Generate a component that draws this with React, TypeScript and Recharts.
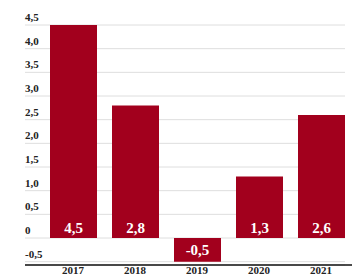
import { BarChart, Bar, XAxis, YAxis, CartesianGrid, LabelList } from "recharts";

const years = ["2017", "2018", "2019", "2020", "2021"];
const growth = [4.5, 2.8, -0.5, 1.3, 2.6];
const yTicks = [-0.5, 0, 0.5, 1, 1.5, 2, 2.5, 3, 3.5, 4, 4.5];

const chartData = years.map((year, i) => ({ year, value: growth[i] }));

const SERIF = "'Liberation Serif', 'DejaVu Serif', serif";
const BAR_COLOR = "#A2001D";

const fmt = (v: number) => (v === 0 ? "0" : v.toFixed(1).replace(".", ","));

const YTick = (props: any) => {
  const { x, y, payload } = props;
  return (
    <text
      x={x}
      y={y - 8}
      textAnchor="start"
      dominantBaseline="central"
      fontFamily={SERIF}
      fontWeight="bold"
      fontSize={11}
      fill="#222"
    >
      {fmt(payload.value)}
    </text>
  );
};

const ValueLabel = (props: any) => {
  const { x, y, width, height, value } = props;
  const top = Math.min(y, y + height);
  const bottom = Math.max(y, y + height);
  const ty = value >= 0 ? bottom - 10 : (top + bottom) / 2;
  return (
    <text
      x={x + width / 2}
      y={ty}
      textAnchor="middle"
      dominantBaseline="central"
      fontFamily={SERIF}
      fontWeight="bold"
      fontSize={15}
      fill="#fff"
    >
      {fmt(value)}
    </text>
  );
};

export default function App() {
  return (
    <div style={{ position: "absolute", left: 0, top: 0, background: "#fff" }}>
      <BarChart
        width={355}
        height={277}
        data={chartData}
        margin={{ top: 25, right: 3, bottom: 0, left: 0 }}
      >
        <CartesianGrid
          vertical={false}
          stroke="#dedede"
          x={25}
          width={320}
        />
        <YAxis
          type="number"
          domain={[-0.57, 4.5]}
          ticks={yTicks}
          interval={0}
          width={25}
          axisLine={false}
          tickLine={false}
          tickSize={0}
          tickMargin={0}
          tick={<YTick />}
        />
        <XAxis
          dataKey="year"
          height={12}
          padding={{ left: 17, right: 0 }}
          axisLine={{ stroke: "#111", strokeWidth: 1.5 }}
          tickLine={false}
          tickSize={0}
          tickMargin={1}
          tick={{ fontFamily: SERIF, fontWeight: "bold", fontSize: 11, fill: "#222" }}
        />
        <Bar dataKey="value" fill={BAR_COLOR} barSize={47} isAnimationActive={false}>
          <LabelList dataKey="value" content={<ValueLabel />} />
        </Bar>
      </BarChart>
    </div>
  );
}
